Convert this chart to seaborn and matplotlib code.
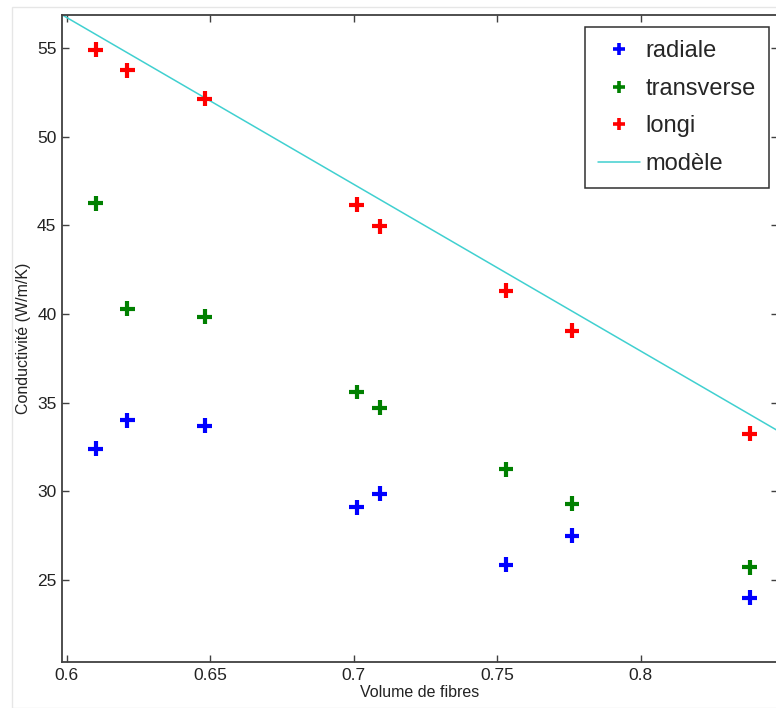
import pandas as pd
import seaborn as sns
import matplotlib.pyplot as plt
from matplotlib.lines import Line2D
from matplotlib.patches import Rectangle

# fibre volume fraction of the samples
volume = [0.610, 0.621, 0.648, 0.701, 0.709, 0.753, 0.776, 0.838]

# measured conductivities (W/m/K)
radiale = [32.4, 34.0, 33.7, 29.1, 29.85, 25.85, 27.5, 24.0]
transverse = [46.25, 40.3, 39.85, 35.6, 34.7, 31.25, 29.3, 25.7]
longi = [54.9, 53.75, 52.15, 46.15, 44.95, 41.3, 39.05, 33.25]

# model line
model_x = [0.598, 0.85]
model_y = [56.9, 33.2]

series = ['radiale', 'transverse', 'longi']
colors = {'radiale': '#0000ff', 'transverse': '#008000', 'longi': '#ff0000'}
model_color = '#40d0d0'

df = pd.DataFrame({
    'Volume': volume * 3,
    'Conductivite': radiale + transverse + longi,
    'serie': [s for s in series for _ in volume],
})
df_model = pd.DataFrame({'Volume': model_x, 'Conductivite': model_y})

sns.set_style('white')
plt.rcParams['font.family'] = ['Liberation Sans', 'DejaVu Sans']

fig = plt.figure(figsize=(7.76, 7.08), dpi=100)
ax = fig.add_axes([62 / 776, 46 / 708, 716 / 776, 647 / 708])

sns.lineplot(data=df_model, x='Volume', y='Conductivite', color=model_color,
             linewidth=1.1, ax=ax, legend=False)
sns.scatterplot(data=df, x='Volume', y='Conductivite', hue='serie', palette=colors,
                marker='+', s=115, linewidth=3.0, ax=ax, legend=False, zorder=3)

ax.set_xlim(0.5983, 0.8478)
ax.set_ylim(20.37, 56.86)
ax.set_xticks([0.6, 0.65, 0.7, 0.75, 0.8])
ax.set_xticklabels(['0.6', '0.65', '0.7', '0.75', '0.8'])
ax.set_yticks([25, 30, 35, 40, 45, 50, 55])
ax.tick_params(direction='in', length=5, width=1, colors='#404040',
               labelsize=12.5, labelcolor='#222222', top=True, right=True,
               left=True, bottom=True, pad=4)
for sp in ax.spines.values():
    sp.set_color('#404040')
    sp.set_linewidth(1.3)

ax.set_xlabel('Volume de fibres', fontsize=11.5, color='#222222', labelpad=2)
ax.set_ylabel('Conductivité (W/m/K)', fontsize=11.5, color='#222222', labelpad=4)

handles = [Line2D([], [], linestyle='none', marker='+', color=colors[s],
                  markersize=9, markeredgewidth=2.6) for s in series]
handles.append(Line2D([], [], color=model_color, linewidth=1.1))
leg = ax.legend(handles, series + ['modèle'], loc='upper right',
                bbox_to_anchor=(0.987, 0.981), borderaxespad=0,
                prop={'size': 17},
                handlelength=1.75, handletextpad=0.25, labelspacing=0.66,
                borderpad=0.55, fancybox=False, framealpha=1)
leg.get_frame().set_edgecolor('#303030')
leg.get_frame().set_linewidth(1.1)

# faint frame of the original screenshot
fig.add_artist(Rectangle((12 / 776, 0), 1, 1 - 7 / 708, transform=fig.transFigure,
                         fill=False, edgecolor='#e6e6e6', linewidth=1))

plt.savefig('out.png', dpi=100)
